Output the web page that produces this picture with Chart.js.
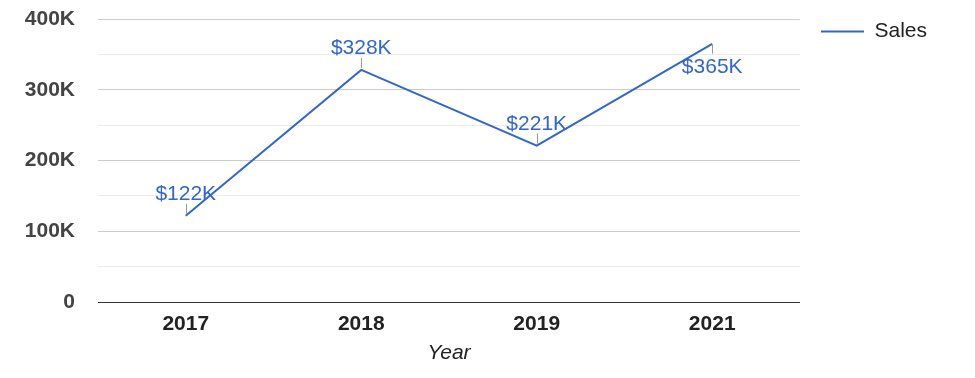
<!DOCTYPE html>
<html>
<head>
<meta charset="utf-8">
<script src="https://cdn.jsdelivr.net/npm/chart.js@4"></script>
<style>
  html, body { margin: 0; padding: 0; background: #fff; }
  #wrap { width: 975px; height: 378px; position: relative; }
</style>
</head>
<body>
<div id="wrap"><canvas id="salesChart"></canvas></div>
<script>
//////////////////////* Data *////////////////////////////
let years = ["2017", "2018", "2019", "2021"];

let sales = [122000, 328000, 221000, 365000];

let salesLabels = ["$122K", "$328K", "$221K", "$365K"];

let yTicks = [0, 100000, 200000, 300000, 400000];

//////////////////////* Styles *////////////////////////////
let primaryFont = "Arial, 'Liberation Sans', sans-serif";
let lineColor = "#3366cc";
let textColor = "#444444";

// value labels with a little stem, flipped below when the point sits at the top
let valueLabels = {
    id: "valueLabels",
    afterDatasetsDraw(chart) {
        let ctx = chart.ctx;
        let meta = chart.getDatasetMeta(0);
        ctx.save();
        ctx.font = "21px " + primaryFont;
        ctx.textAlign = "center";
        ctx.textBaseline = "alphabetic";
        meta.data.forEach(function (pt, i) {
            let below = pt.y - chart.chartArea.top < 40;
            ctx.strokeStyle = "#999999";
            ctx.lineWidth = 1;
            ctx.beginPath();
            if (below) {
                ctx.moveTo(Math.round(pt.x) + 0.5, pt.y + 1);
                ctx.lineTo(Math.round(pt.x) + 0.5, pt.y + 10);
            } else {
                ctx.moveTo(Math.round(pt.x) + 0.5, pt.y - 2);
                ctx.lineTo(Math.round(pt.x) + 0.5, pt.y - 12);
            }
            ctx.stroke();
            ctx.fillStyle = lineColor;
            ctx.fillText(salesLabels[i], pt.x, below ? pt.y + 29 : pt.y - 16);
        });
        ctx.restore();
    },
};

function salesChart() {
    let ctx = document.getElementById("salesChart");
    let data = {
        labels: years,
        datasets: [
            {
                type: "line",
                label: "Sales",
                data: sales,
                borderColor: lineColor,
                backgroundColor: lineColor,
                borderWidth: 2,
                pointRadius: 0,
                tension: 0,
            },
        ],
    };
    let config = {
        data: data,
        plugins: [valueLabels],
        options: {
            responsive: true,
            maintainAspectRatio: false,
            animation: false,
            layout: {
                padding: { top: 0, left: 0, right: 38, bottom: 0 },
            },
            plugins: {
                legend: {
                    position: "right",
                    align: "start",
                    labels: {
                        usePointStyle: true,
                        pointStyle: "line",
                        pointStyleWidth: 43,
                        padding: 21,
                        color: "#222222",
                        font: { family: primaryFont, size: 21 },
                    },
                },
                tooltip: { enabled: false },
            },
            scales: {
                y: {
                    min: 0,
                    max: 400000,
                    afterFit: function (scale) {
                        scale.width = 98;
                        scale.paddingTop = 19;
                    },
                    ticks: {
                        stepSize: 50000,
                        color: textColor,
                        padding: 23,
                        callback: function (value) {
                            if (!yTicks.includes(value)) return "";
                            return value === 0 ? "0" : value / 1000 + "K";
                        },
                        font: { family: primaryFont, weight: "bold", size: 21 },
                    },
                    grid: {
                        drawTicks: false,
                        color: function (c) {
                            if (c.tick.value === 0) return "#333333";
                            return yTicks.includes(c.tick.value) ? "#cccccc" : "#ebebeb";
                        },
                    },
                    border: { display: false },
                },
                x: {
                    offset: true,
                    afterFit: function (scale) {
                        scale.height = 76;
                    },
                    ticks: {
                        color: "#222222",
                        padding: 10,
                        font: { family: primaryFont, weight: "bold", size: 21 },
                    },
                    title: {
                        display: true,
                        text: "Year",
                        color: "#222222",
                        padding: { top: 0, bottom: 12 },
                        font: { family: primaryFont, style: "italic", size: 21 },
                    },
                    grid: { display: false, drawTicks: false },
                    border: { display: true, color: "#333333", width: 1 },
                },
            },
        },
    };
    let chart = new Chart(ctx, config);
}

salesChart();
</script>
</body>
</html>
